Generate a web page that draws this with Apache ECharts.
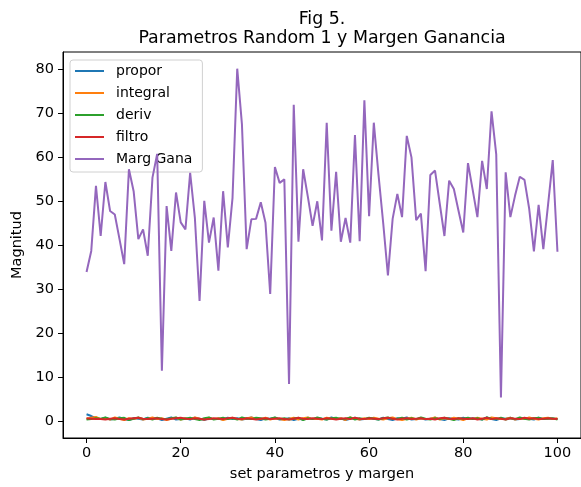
<!DOCTYPE html>
<html>
<head>
<meta charset="utf-8">
<script src="https://cdn.jsdelivr.net/npm/echarts@6/dist/echarts.min.js"></script>
<style>html,body{margin:0;padding:0;background:#fff;}#c{width:581px;height:487px;}</style>
</head>
<body>
<div id="c"></div>
<script>
const titleLines = ['Fig 5.', 'Parametros Random 1 y Margen Ganancia'];
const xName = 'set parametros y margen';
const yName = 'Magnitud';
const seriesNames = ['propor', 'integral', 'deriv', 'filtro', 'Marg Gana'];
const xTicks = [0, 20, 40, 60, 80, 100];
const yTicks = [0, 10, 20, 30, 40, 50, 60, 70, 80];

const propor = [
  1.5,1.1,0.6,0.4,0.7,0.3,0.5,0.8,0.4,0.2,
  0.6,0.5,0.3,0.7,0.4,0.6,0.2,0.5,0.8,0.3,
  0.4,0.6,0.3,0.7,0.5,0.2,0.6,0.4,0.5,0.3,
  0.7,0.4,0.6,0.3,0.5,0.8,0.4,0.2,0.6,0.5,
  0.7,0.3,0.4,0.6,0.2,0.5,0.3,0.7,0.4,0.6,
  0.5,0.3,0.8,0.4,0.6,0.2,0.5,0.7,0.3,0.4,
  0.6,0.5,0.3,0.7,0.4,0.2,0.6,0.5,0.8,0.3,
  0.4,0.6,0.3,0.5,0.7,0.4,0.2,0.6,0.5,0.3,
  0.7,0.4,0.6,0.5,0.3,0.8,0.4,0.2,0.6,0.5,
  0.7,0.3,0.4,0.6,0.5,0.3,0.7,0.4,0.6,0.5,
  0.4];
const integral = [
  0.5,0.7,0.9,0.4,0.6,0.3,0.8,0.5,0.2,0.6,
  0.4,0.7,0.3,0.5,0.8,0.4,0.6,0.2,0.5,0.7,
  0.3,0.6,0.4,0.8,0.5,0.3,0.7,0.4,0.6,0.2,
  0.5,0.7,0.4,0.3,0.6,0.8,0.5,0.4,0.7,0.3,
  0.6,0.4,0.2,0.5,0.7,0.3,0.6,0.8,0.4,0.5,
  0.3,0.7,0.5,0.4,0.6,0.2,0.8,0.5,0.3,0.6,
  0.4,0.7,0.5,0.3,0.6,0.8,0.4,0.2,0.5,0.7,
  0.3,0.6,0.4,0.5,0.8,0.3,0.6,0.4,0.7,0.5,
  0.2,0.6,0.4,0.7,0.5,0.3,0.8,0.6,0.4,0.5,
  0.7,0.3,0.6,0.4,0.8,0.5,0.3,0.6,0.7,0.4,
  0.6];
const deriv = [
  0.3,0.4,0.6,0.5,0.8,0.4,0.3,0.6,0.7,0.2,
  0.5,0.8,0.4,0.6,0.3,0.7,0.5,0.4,0.6,0.8,
  0.3,0.5,0.7,0.4,0.2,0.6,0.8,0.3,0.5,0.7,
  0.4,0.6,0.3,0.8,0.5,0.4,0.7,0.6,0.3,0.5,
  0.8,0.4,0.6,0.3,0.5,0.7,0.2,0.6,0.4,0.8,
  0.5,0.3,0.6,0.7,0.4,0.5,0.8,0.3,0.6,0.4,
  0.7,0.5,0.3,0.6,0.8,0.4,0.5,0.7,0.3,0.6,
  0.4,0.8,0.5,0.3,0.6,0.4,0.7,0.5,0.2,0.6,
  0.5,0.7,0.4,0.6,0.3,0.8,0.5,0.4,0.7,0.3,
  0.6,0.4,0.8,0.5,0.3,0.6,0.7,0.4,0.5,0.6,
  0.3];
const filtro = [
  0.6,0.5,0.4,0.4,0.3,0.5,0.6,0.4,0.3,0.5,
  0.6,0.7,0.5,0.4,0.5,0.6,0.4,0.3,0.5,0.6,
  0.7,0.5,0.4,0.6,0.5,0.3,0.4,0.6,0.5,0.4,
  0.6,0.7,0.5,0.4,0.6,0.5,0.3,0.5,0.6,0.4,
  0.5,0.6,0.4,0.3,0.5,0.7,0.5,0.4,0.6,0.5,
  0.4,0.6,0.5,0.3,0.5,0.6,0.4,0.7,0.5,0.4,
  0.6,0.5,0.4,0.6,0.7,0.5,0.3,0.5,0.6,0.4,
  0.5,0.6,0.4,0.5,0.3,0.6,0.7,0.5,0.4,0.6,
  0.5,0.4,0.6,0.3,0.5,0.7,0.4,0.6,0.5,0.3,
  0.6,0.5,0.4,0.7,0.5,0.6,0.4,0.5,0.6,0.5,
  0.4];
const margGana = [
  33.9,38.7,53.5,42.1,54.4,47.8,47.0,41.4,35.7,57.3,
  52.3,41.4,43.6,37.6,55.4,60.8,11.4,48.9,38.7,52.0,
  45.2,43.6,56.5,46.3,27.3,50.1,40.6,46.3,34.2,52.3,
  39.5,50.8,80.2,67.5,39.1,45.9,46.0,49.8,45.1,28.9,
  57.8,54.2,55.0,8.4,72.0,40.8,57.3,51.0,44.4,50.0,
  41.1,67.9,43.3,56.7,40.8,46.2,40.6,65.1,40.9,73.0,
  46.6,67.9,56.0,45.0,33.1,46.0,51.7,46.4,64.9,60.0,
  45.7,47.2,34.1,56.0,57.0,49.5,42.1,54.7,52.8,47.8,
  42.9,58.7,52.6,46.4,59.2,52.8,70.5,60.7,5.3,56.6,
  46.4,51.3,55.6,54.9,48.3,38.6,49.2,39.1,49.2,59.4,
  38.5];

const allValues = [propor, integral, deriv, filtro, margGana];
const colors = ['#1f77b4', '#ff7f0e', '#2ca02c', '#d62728', '#9467bd'];
const FONT = 'DejaVu Sans';

const chart = echarts.init(document.getElementById('c'), null, {renderer: 'canvas'});
const series = allValues.map((vals, k) => ({
  name: seriesNames[k],
  type: 'line',
  data: vals.map((v, i) => [i, v]),
  symbol: 'none',
  showSymbol: false,
  animation: false,
  lineStyle: {color: colors[k], width: 2},
  itemStyle: {color: colors[k]},
  z: 2 + k
}));

chart.setOption({
  animation: false,
  backgroundColor: '#ffffff',
  graphic: [{
    type: 'text', x: 322, y: 10, z: 100,
    style: {
      text: titleLines.join('\n'), textAlign: 'center', textVerticalAlign: 'top',
      fontFamily: FONT, fontSize: 17.4, lineHeight: 19, fill: '#000'
    }
  }],
  grid: {left: 63, top: 52, width: 518, height: 387, show: true,
         borderColor: '#000', borderWidth: 1, backgroundColor: 'transparent'},
  legend: {
    orient: 'vertical', left: 70, top: 60,
    data: seriesNames,
    icon: 'path://M0,0H29V2H0Z',
    itemWidth: 29, itemHeight: 14, itemGap: 8,
    padding: [4, 10, 6, 5],
    backgroundColor: 'rgba(255,255,255,0.8)',
    borderColor: '#d0d0d0', borderWidth: 1, borderRadius: 3,
    textStyle: {fontFamily: FONT, fontSize: 14, color: '#000', lineHeight: 14, padding: [0, 0, 0, 7]}
  },
  xAxis: {
    type: 'value', min: -5, max: 105,
    name: xName, nameLocation: 'middle', nameGap: 29,
    nameTextStyle: {fontFamily: FONT, fontSize: 14.5, color: '#000'},
    axisLine: {show: true, onZero: false, lineStyle: {color: '#000', width: 1}},
    axisTick: {show: true, length: 5, lineStyle: {color: '#000'}, customValues: xTicks},
    axisLabel: {fontFamily: FONT, fontSize: 14.5, color: '#000', margin: 8, customValues: xTicks},
    splitLine: {show: false}
  },
  yAxis: {
    type: 'value', min: -3.9, max: 84.0,
    name: yName, nameLocation: 'middle', nameGap: 35, nameRotate: 90,
    nameTextStyle: {fontFamily: FONT, fontSize: 14.5, color: '#000'},
    axisLine: {show: true, onZero: false, lineStyle: {color: '#000', width: 1}},
    axisTick: {show: true, length: 5, lineStyle: {color: '#000'}, customValues: yTicks},
    axisLabel: {fontFamily: FONT, fontSize: 14.5, color: '#000', margin: 9, customValues: yTicks},
    splitLine: {show: false}
  },
  series: series
});
</script>
</body>
</html>
